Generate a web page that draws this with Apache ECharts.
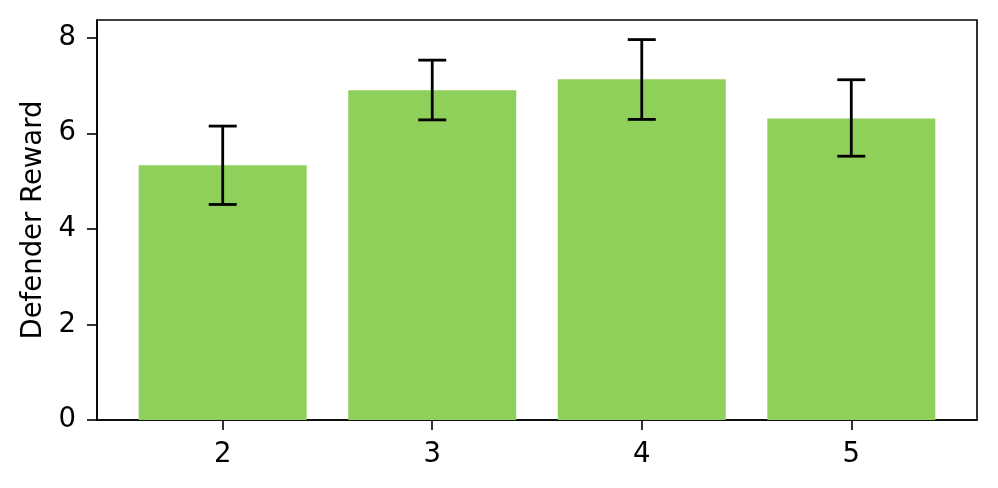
<!DOCTYPE html>
<html>
<head>
<meta charset="utf-8">
<script src="https://cdn.jsdelivr.net/npm/echarts@6/dist/echarts.min.js"></script>
<style>
  html, body { margin: 0; padding: 0; background: #fff; }
  #chart { width: 998px; height: 488px; }
</style>
</head>
<body>
<div id="chart"></div>
<script>
// values
const categories = [2, 3, 4, 5];
const rewards = [5.33, 6.90, 7.13, 6.31];
const errLow = [4.51, 6.28, 6.29, 5.52];
const errHigh = [6.15, 7.53, 7.96, 7.12];
const yTicks = [0, 2, 4, 6, 8];

const font = 'DejaVu Sans';
const fontSize = 27.5;

let dom = document.getElementById('chart');
let chart = echarts.init(dom);

let barData = categories.map((c, i) => [c, rewards[i]]);
let errData = categories.map((c, i) => [c, errLow[i], errHigh[i]]);

chart.setOption({
  animation: false,
  grid: {
    left: 97, right: 21, top: 20, bottom: 68,
    show: true, borderColor: '#000', borderWidth: 1.6
  },
  xAxis: {
    type: 'value',
    min: 1.4,
    max: 5.6,
    splitLine: { show: false },
    axisLine: { show: true, lineStyle: { color: '#000', width: 1.6 } },
    axisTick: { show: true, customValues: categories, length: 10, lineStyle: { color: '#000', width: 1.6 } },
    axisLabel: { customValues: categories, color: '#000', fontFamily: font, fontSize: fontSize, margin: 21 }
  },
  yAxis: {
    type: 'value',
    min: 0,
    max: 8.37,
    name: 'Defender Reward',
    nameLocation: 'middle',
    nameGap: 49,
    nameTextStyle: { color: '#000', fontFamily: font, fontSize: fontSize },
    splitLine: { show: false },
    axisLine: { show: true, lineStyle: { color: '#000', width: 1.6 } },
    axisTick: { show: true, customValues: yTicks, length: 10, lineStyle: { color: '#000', width: 1.6 } },
    axisLabel: { customValues: yTicks, color: '#000', fontFamily: font, fontSize: fontSize, margin: 21 }
  },
  series: [
    {
      type: 'bar',
      data: barData,
      barWidth: 168,
      itemStyle: { color: '#8fd05a' }
    },
    {
      type: 'custom',
      data: errData,
      z: 10,
      renderItem: function (params, api) {
        let x = api.value(0);
        let lo = api.coord([x, api.value(1)]);
        let hi = api.coord([x, api.value(2)]);
        let half = 14;
        let style = { stroke: '#000', lineWidth: 2.8 };
        return {
          type: 'group',
          children: [
            { type: 'line', shape: { x1: lo[0], y1: lo[1], x2: hi[0], y2: hi[1] }, style: style },
            { type: 'line', shape: { x1: lo[0] - half, y1: lo[1], x2: lo[0] + half, y2: lo[1] }, style: style },
            { type: 'line', shape: { x1: hi[0] - half, y1: hi[1], x2: hi[0] + half, y2: hi[1] }, style: style }
          ]
        };
      }
    }
  ]
});
</script>
</body>
</html>
